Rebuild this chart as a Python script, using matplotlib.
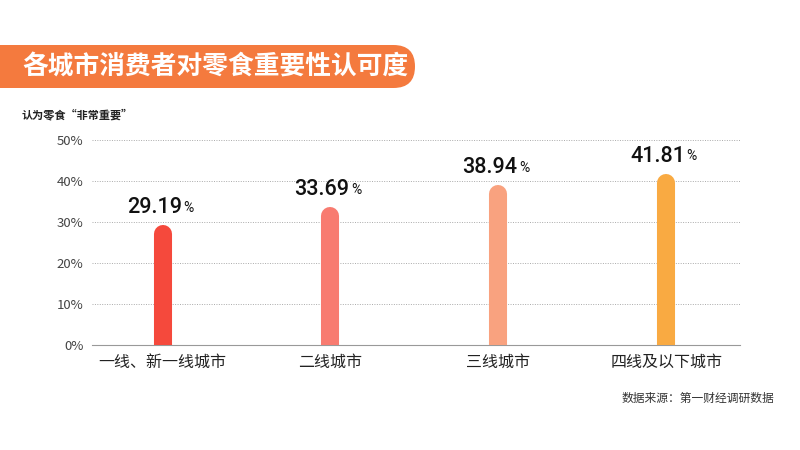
import matplotlib
matplotlib.use("Agg")
import matplotlib.pyplot as plt
from matplotlib.patches import FancyBboxPatch

plt.rcParams['font.family'] = ['Noto Sans CJK SC', 'DejaVu Sans']

categories = ["一线、新一线城市", "二线城市", "三线城市", "四线及以下城市"]
values = [29.19, 33.69, 38.94, 41.81]
colors = ["#F5493C", "#F87B70", "#F9A27F", "#F9AA42"]
yticks = [0, 10, 20, 30, 40, 50]

fig = plt.figure(figsize=(8, 4.5), dpi=100)
fig.patch.set_facecolor("white")

bax = fig.add_axes([0, 0, 1, 1], zorder=0)
bax.set_xlim(0, 800)
bax.set_ylim(450, 0)
bax.axis("off")
bax.add_patch(FancyBboxPatch((-40, 45), 455, 43, boxstyle="round,pad=0,rounding_size=21.5",
                             facecolor="#F47A3E", edgecolor="none"))
bax.text(22, 67, "各城市消费者对零食重要性认可度", fontsize=18.5, fontweight="bold",
         color="white", va="center", ha="left")
bax.text(22, 115, "认为零食“非常重要”", fontsize=8, fontweight="bold", color="#222222", va="center")
bax.text(774, 398, "数据来源：第一财经调研数据", fontsize=8.5, color="#333333", ha="right", va="center")

ax = fig.add_axes([0.115, 0.233, 0.81, 0.456], zorder=1)
ax.patch.set_alpha(0)
ax.set_xlim(-0.42, 3.44)
ax.set_ylim(0, 50)
ax.set_yticks(yticks)
ax.set_yticklabels([f"{t}%" for t in yticks], fontsize=9.5, color="#444444")
ax.set_xticks(range(len(categories)))
ax.set_xticklabels(categories, fontsize=11.5, fontweight="medium", color="#222222")
ax.tick_params(length=0, pad=6)
ax.tick_params(axis='x', pad=6)
for s in ["top", "right", "left"]:
    ax.spines[s].set_visible(False)
ax.spines["bottom"].set_color("#999999")
ax.grid(axis="y", linestyle=(0, (1, 1.5)), color="#aaaaaa", linewidth=0.7)
ax.set_axisbelow(True)

lw = 13.0
fig.canvas.draw()
px_per_unit = ax.bbox.height / 50.0
cap = (lw / 72 * 100 / 2) / px_per_unit
for i, (v, c) in enumerate(zip(values, colors)):
    ax.plot([i, i], [-5, v - cap], color=c, linewidth=lw, solid_capstyle="round", zorder=3)
    t = ax.annotate(f"{v:.2f}", (i, v), xytext=(-6, 5), textcoords="offset points",
                    ha="center", va="bottom", fontsize=15.5, fontweight="medium",
                    family=["Roboto", "DejaVu Sans"], color="#111111")
    ax.annotate("%", xy=(1, 0.16), xycoords=t, xytext=(1, 0), textcoords="offset points",
                ha="left", va="bottom", fontsize=10, family=["Roboto", "DejaVu Sans"], color="#111111")

fig.savefig("out.png", dpi=100)
